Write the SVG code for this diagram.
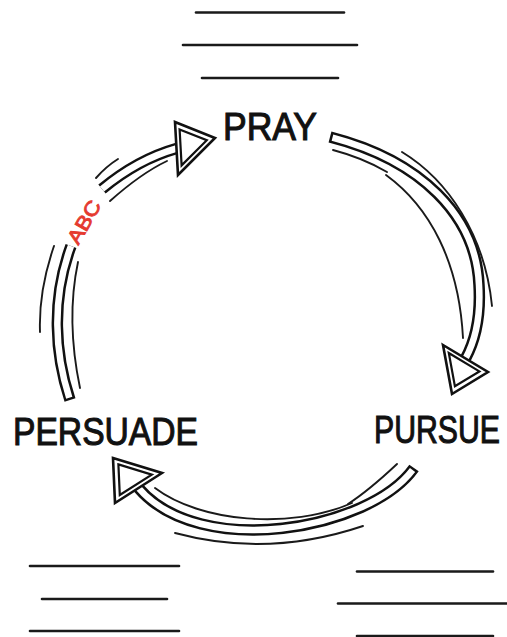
<svg xmlns="http://www.w3.org/2000/svg" width="507" height="637" viewBox="0 0 507 637">
<style>
.rule{stroke:#1a1a1a;stroke-width:2.6;stroke-linecap:round;fill:none}
.label{font-family:"Liberation Sans",Arial,sans-serif;font-size:39px;fill:#111;stroke:#111;stroke-width:1.1}
.band-o{fill:none;stroke:#111;stroke-width:11.5}
.band-i{fill:none;stroke:#fff;stroke-width:6.5}
.closed{stroke-dasharray:0 2.5 5000}
.sketch{fill:none;stroke:#1a1a1a;stroke-width:1.9;stroke-linecap:round}
.head{fill:#fff;stroke:#111;stroke-width:2.6;stroke-linejoin:miter}
.head-in{fill:none;stroke:#111;stroke-width:2.2}
.abc{font-family:"Liberation Sans",Arial,sans-serif;font-size:20px;fill:#e53a2f;stroke:#e53a2f;stroke-width:0.9}
</style>
<rect width="507" height="637" fill="#fff"/>
<g id="lines-top">
<line class="rule" x1="196" y1="12.5" x2="344" y2="12.5"/>
<line class="rule" x1="183" y1="45" x2="357" y2="45"/>
<line class="rule" x1="202" y1="78" x2="338" y2="78"/>
</g>
<g id="lines-bottom-left">
<line class="rule" x1="30" y1="566" x2="179" y2="566"/>
<line class="rule" x1="42" y1="599" x2="167" y2="599"/>
<line class="rule" x1="30" y1="631" x2="179" y2="631"/>
</g>
<g id="lines-bottom-right">
<line class="rule" x1="357" y1="571.5" x2="493" y2="571.5"/>
<line class="rule" x1="338" y1="603.5" x2="510" y2="603.5"/>
<line class="rule" x1="357" y1="636" x2="493" y2="636"/>
</g>
<g id="connectors">
<g id="arrow-pray-pursue">
<path class="band-o" d="M330,137 C420,160 476,215 479,285 C481,318 475,341 465.5,358.5"/>
<path class="band-i closed" d="M330,137 C420,160 476,215 479,285 C481,318 475,341 465.5,358.5"/>
<polygon class="head" points="443,345 488,372 452,394"/>
<polygon class="head-in" points="448.8,353 479.4,371.4 454.9,386.3"/>
<path class="sketch" d="M402,152 C448,180 485,235 492,306"/>
<path class="sketch" d="M333,150 C352,155 370,162 387,172"/>
<path class="sketch" d="M386,175 C430,207 459,262 463,338"/>
</g>
<g id="arrow-pursue-persuade">
<path class="band-o" d="M414,468 C370,530 200,560 138.5,488"/>
<path class="band-i closed" d="M414,468 C370,530 200,560 138.5,488"/>
<polygon class="head" points="113,458 162,473 115,503"/>
<polygon class="head-in" points="118.4,464.4 151.8,474.6 119.8,495"/>
<path class="sketch" d="M175,533 Q268,558 363,526"/>
<path class="sketch" d="M155,488 C200,522 290,530 352,503"/>
<path class="sketch" d="M397,464 C380,480 365,493 348,504"/>
</g>
<g id="arrow-persuade-pray">
<path class="band-o" d="M70,400 C55,355 51,300 71,246"/>
<path class="band-i closed" d="M70,400 C55,355 51,300 71,246"/>
<path class="band-o" d="M102,189 C125,170 150,156 176.5,148.5"/>
<path class="band-i" d="M102,189 C125,170 150,156 176.5,148.5"/>
<polygon class="head" points="175,122 215,138 178,175"/>
<polygon class="head-in" points="179.6,129.4 206.8,140.2 181.6,165.4"/>
<path class="sketch" d="M54,246 C44,275 39,305 40,332"/>
<path class="sketch" d="M78,262 C70,300 70,340 80,388"/>
<path class="sketch" d="M96,178 C103,170 110,164 118,159"/>
<path class="sketch" d="M110,201 C128,185 148,170 167,161"/>
<text class="abc" x="84" y="229" text-anchor="middle" textLength="47" lengthAdjust="spacingAndGlyphs" transform="rotate(-60 84 222)">ABC</text>
</g>
</g>
<g id="node-pray">
<text class="label" x="223" y="140" textLength="94" lengthAdjust="spacingAndGlyphs">PRAY</text>
</g>
<g id="node-pursue">
<text class="label" x="374" y="443" textLength="126" lengthAdjust="spacingAndGlyphs">PURSUE</text>
</g>
<g id="node-persuade">
<text class="label" x="13" y="445" textLength="185" lengthAdjust="spacingAndGlyphs">PERSUADE</text>
</g>
</svg>
